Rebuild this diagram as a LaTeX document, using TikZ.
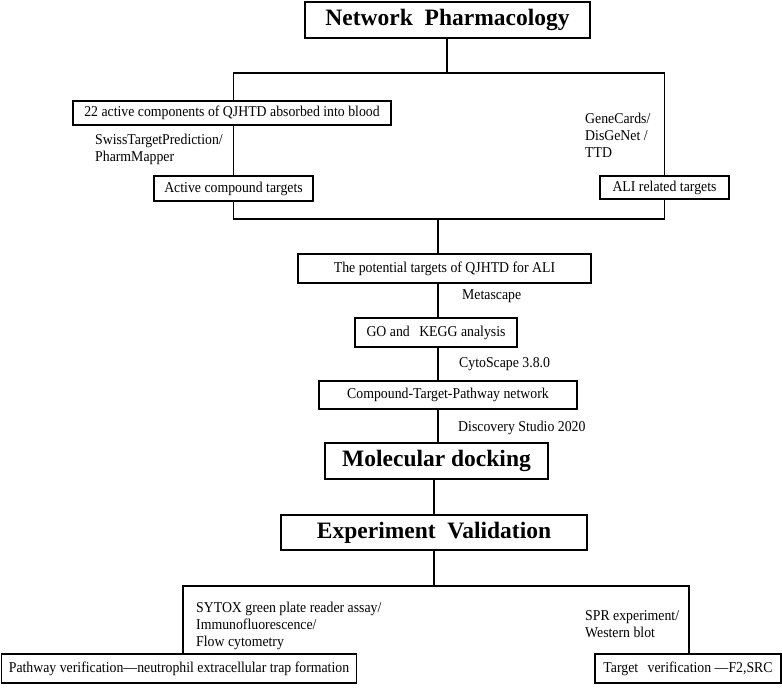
\documentclass[tikz,border=0pt]{standalone}
\usepackage{fontspec}
\setmainfont{Liberation Serif}
\newfontfamily\narrowserif{Liberation Serif}[FakeStretch=0.92, Ligatures=TeX]
\usepackage{tikz}
\usetikzlibrary{calc}
\usetikzlibrary{positioning}
\tikzstyle{box} = [draw=black, line width=1.4pt, inner sep=0pt, font=\narrowserif\fontsize{15}{17}\selectfont]
\tikzstyle{head} = [draw=black, line width=1.4pt, inner sep=0pt, font=\fontsize{23.5}{27}\selectfont\bfseries]
\tikzstyle{note} = [anchor=west, align=left, inner sep=0pt, font=\narrowserif\fontsize{15}{17}\selectfont]
\tikzstyle{link} = [draw=black, line width=1.2pt]

\begin{document}
\begin{tikzpicture}[x=1pt, y=-1pt]
\useasboundingbox (0, 0) rectangle (782, 689);
% top part
\node [head, minimum width=285, minimum height=36] (NP) at (447.5, 20) {Network\hspace{0.5em}Pharmacology};
\node [box, minimum width=318, minimum height=24] (A22) at (232, 113) {22 active components of QJHTD absorbed into blood};
\node [box, minimum width=159, minimum height=25] (ACT) at (233.5, 188.5) {Active compound targets};
\node [box, minimum width=129, minimum height=23] (ALI) at (664.5, 187.5) {ALI related targets};
\node [note] (SW) at (95, 149) {SwissTargetPrediction/\\PharmMapper};
\node [note] (GC) at (585, 135) {GeneCards/\\DisGeNet /\\TTD};
\coordinate (J1) at (447, 73);
\coordinate (J2) at (438, 219);
\draw [link] (NP.south -| J1) -- (J1);
\draw [link] (A22.north -| ACT) |- (J1) -| (ALI.north);
\draw [link] (A22.south -| ACT) -- (ACT.north);
\draw [link] (ACT.south) |- (J2) -| (ALI.south);
% middle chain
\node [box, minimum width=293, minimum height=29] (POT) at (444.5, 268.5) {The potential targets of QJHTD for ALI};
\node [box, minimum width=162, minimum height=29] (GO) at (436, 332.5) {GO and\hspace{0.4em} KEGG analysis};
\node [box, minimum width=258, minimum height=28] (CTP) at (448, 395) {Compound-Target-Pathway network};
\node [head, minimum width=223, minimum height=36] (MD) at (436.5, 461) {Molecular docking};
\node [head, minimum width=306, minimum height=35] (EV) at (434, 532.5) {Experiment\hspace{0.5em}Validation};
\node [note] (MS) at (462, 296) {Metascape};
\node [note] (CS) at (459, 364) {CytoScape 3.8.0};
\node [note] (DS) at (458, 428) {Discovery Studio 2020};
\draw [link] (J2) -- (POT.north -| J2);
\draw [link] (POT.south -| J2) -- (GO.north -| J2);
\draw [link] (GO.south -| J2) -- (CTP.north -| J2);
\draw [link] (CTP.south -| J2) -- (MD.north -| J2);
\coordinate (J3) at (434, 586);
\draw [link] (MD.south -| J3) -- (EV.north -| J3);
\draw [link] (EV.south -| J3) -- (J3);
% bottom part
\node [box, minimum width=355, minimum height=29] (PV) at (179, 668.5) {Pathway verification---neutrophil extracellular trap formation};
\node [box, minimum width=186, minimum height=29] (TV) at (688, 668.5) {Target\hspace{0.4em} verification ---F2,SRC};
\node [note] (SY) at (196, 626) {SYTOX green plate reader assay/\\Immunofluorescence/\\Flow cytometry};
\node [note] (SP) at (585, 624) {SPR experiment/\\Western blot};
\coordinate (L1) at (183, 586);
\coordinate (R1) at (689, 586);
\draw [link] (PV.north -| L1) -- (L1) -- (R1) -- (TV.north -| R1);
\end{tikzpicture}
\end{document}
